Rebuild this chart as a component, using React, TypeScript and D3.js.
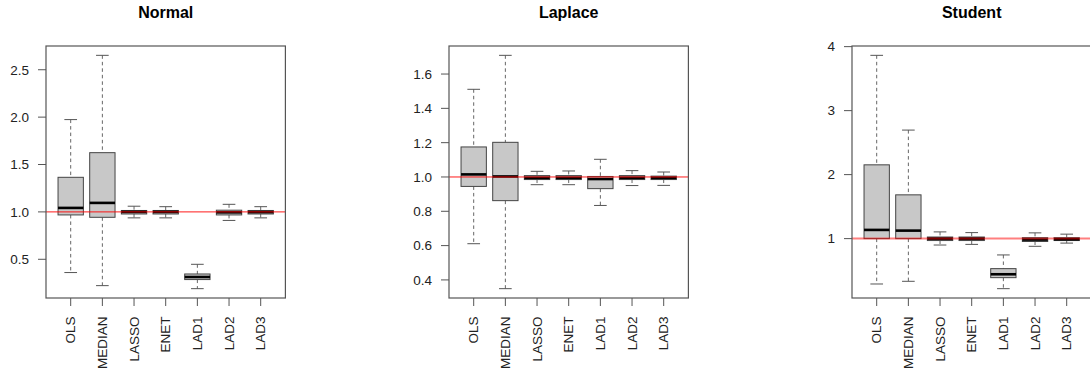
import React from "react";
import * as d3 from "d3";

const methods = ["OLS", "MEDIAN", "LASSO", "ENET", "LAD1", "LAD2", "LAD3"];
const panelTitles = ["Normal", "Laplace", "Student"];

const normalLow = [0.36, 0.222, 0.937, 0.937, 0.19, 0.91, 0.937];
const normalQ1 = [0.968, 0.943, 0.978, 0.978, 0.286, 0.968, 0.978];
const normalMed = [1.042, 1.095, 1.0, 1.0, 0.313, 0.995, 0.998];
const normalQ3 = [1.365, 1.625, 1.015, 1.015, 0.345, 1.018, 1.015];
const normalHigh = [1.974, 2.652, 1.06, 1.055, 0.447, 1.08, 1.055];
const normalTicks = [0.5, 1.0, 1.5, 2.0, 2.5];
const normalTickLabels = ["0.5", "1.0", "1.5", "2.0", "2.5"];

const laplaceLow = [0.611, 0.349, 0.955, 0.955, 0.834, 0.95, 0.951];
const laplaceQ1 = [0.945, 0.862, 0.985, 0.985, 0.932, 0.985, 0.985];
const laplaceMed = [1.015, 1.003, 0.995, 0.995, 0.988, 0.995, 0.995];
const laplaceQ3 = [1.175, 1.202, 1.008, 1.008, 1.003, 1.008, 1.005];
const laplaceHigh = [1.511, 1.709, 1.033, 1.035, 1.103, 1.037, 1.029];
const laplaceTicks = [0.4, 0.6, 0.8, 1.0, 1.2, 1.4, 1.6];
const laplaceTickLabels = ["0.4", "0.6", "0.8", "1.0", "1.2", "1.4", "1.6"];

const studentLow = [0.291, 0.333, 0.9, 0.91, 0.218, 0.88, 0.93];
const studentQ1 = [1.0, 1.0, 0.97, 0.97, 0.39, 0.955, 0.97];
const studentMed = [1.136, 1.125, 1.0, 1.0, 0.443, 0.985, 0.99];
const studentQ3 = [2.153, 1.684, 1.025, 1.025, 0.531, 1.015, 1.015];
const studentHigh = [3.864, 2.696, 1.105, 1.094, 0.745, 1.09, 1.07];
const studentTicks = [1, 2, 3, 4];
const studentTickLabels = ["1", "2", "3", "4"];

const refValue = 1;

const panels = [
  { low: normalLow, q1: normalQ1, med: normalMed, q3: normalQ3, high: normalHigh, ticks: normalTicks, labels: normalTickLabels },
  { low: laplaceLow, q1: laplaceQ1, med: laplaceMed, q3: laplaceQ3, high: laplaceHigh, ticks: laplaceTicks, labels: laplaceTickLabels },
  { low: studentLow, q1: studentQ1, med: studentMed, q3: studentQ3, high: studentHigh, ticks: studentTicks, labels: studentTickLabels },
];

const W = 1090;
const H = 373;
const plotTop = 46;
const plotBottom = 298;
const plotW = 239.4;
const panelStep = 403;
const firstLeft = 46;
const font = "Liberation Sans, Arial, Helvetica, sans-serif";

function Panel({ p, i }: { p: any; i: number }) {
  const left = firstLeft + panelStep * i;
  const n = methods.length;
  const x = d3.scaleLinear().domain([0.5 - 0.04 * n, n + 0.5 + 0.04 * n]).range([left, left + plotW]);
  const mn = d3.min(p.low as number[])!;
  const mx = d3.max(p.high as number[])!;
  const pad = (mx - mn) * 0.04;
  const y = d3.scaleLinear().domain([mn - pad, mx + pad]).range([plotBottom, plotTop]);
  const unit = x(2) - x(1);
  const bw = unit * 0.8;
  const sw = bw * 0.5;
  const isStudent = i === 2;
  return (
    <g>
      <text x={left + plotW / 2} y={17.5} textAnchor="middle" fontFamily={font} fontWeight="bold" fontSize={16} fill="#000">
        {panelTitles[i]}
      </text>
      {/* y axis */}
      {p.ticks.map((t: number, k: number) => (
        <g key={"yt" + k}>
          <line x1={left - 8} x2={left} y1={y(t)} y2={y(t)} stroke="#555" strokeWidth={1} />
          <text x={left - 17} y={y(t)} dy="0.36em" textAnchor="end" fontFamily={font} fontSize={13.5} fill="#222">
            {p.labels[k]}
          </text>
        </g>
      ))}
      {/* x axis */}
      {methods.map((m, k) => (
        <g key={"xt" + k}>
          <line x1={x(k + 1)} x2={x(k + 1)} y1={plotBottom} y2={plotBottom + 8} stroke="#555" strokeWidth={1} />
          <text
            transform={`translate(${x(k + 1)},${plotBottom + 18.5}) rotate(-90)`}
            dy="0.33em"
            textAnchor="end"
            fontFamily={font}
            fontSize={13.5}
            fill="#222"
          >
            {m}
          </text>
        </g>
      ))}
      {/* boxes */}
      {methods.map((m, k) => {
        const cx = x(k + 1);
        return (
          <g key={"b" + k}>
            <line x1={cx} x2={cx} y1={y(p.high[k])} y2={y(p.q3[k])} stroke="#666" strokeWidth={1} strokeDasharray="3.5,3" />
            <line x1={cx} x2={cx} y1={y(p.q1[k])} y2={y(p.low[k])} stroke="#666" strokeWidth={1} strokeDasharray="3.5,3" />
            <line x1={cx - sw / 2} x2={cx + sw / 2} y1={y(p.high[k])} y2={y(p.high[k])} stroke="#555" strokeWidth={1} />
            <line x1={cx - sw / 2} x2={cx + sw / 2} y1={y(p.low[k])} y2={y(p.low[k])} stroke="#555" strokeWidth={1} />
            <rect
              x={cx - bw / 2}
              y={y(p.q3[k])}
              width={bw}
              height={Math.max(1, y(p.q1[k]) - y(p.q3[k]))}
              fill="#c8c8c8"
              stroke="#444"
              strokeWidth={1}
            />
            <line x1={cx - bw / 2} x2={cx + bw / 2} y1={y(p.med[k])} y2={y(p.med[k])} stroke="#000" strokeWidth={2.6} />
          </g>
        );
      })}
      {/* reference line */}
      <line
        x1={left}
        x2={left + plotW}
        y1={y(refValue)}
        y2={y(refValue)}
        stroke="#ff0000"
        strokeWidth={isStudent ? 2 : 1}
        strokeOpacity={isStudent ? 0.5 : 0.9}
      />
      {/* frame */}
      <rect x={left} y={plotTop} width={plotW} height={plotBottom - plotTop} fill="none" stroke="#555" strokeWidth={1.2} />
    </g>
  );
}

export default function App() {
  return (
    <svg width={W} height={H} style={{ position: "absolute", left: 0, top: 0, background: "#fff" }}>
      <rect x={0} y={0} width={W} height={H} fill="#fff" />
      {panels.map((p, i) => (
        <Panel key={i} p={p} i={i} />
      ))}
    </svg>
  );
}
